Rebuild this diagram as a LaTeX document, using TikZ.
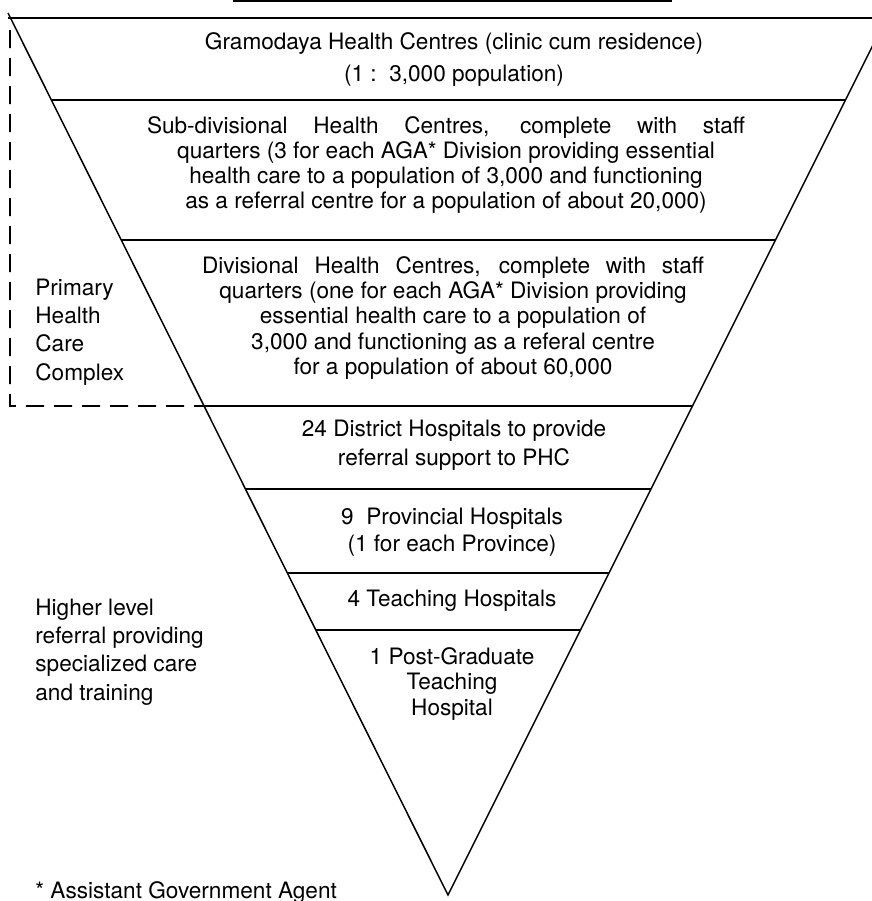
\documentclass[tikz,border=0pt]{standalone}
\usepackage{fontspec}
\setmainfont{TeX Gyre Heros}
\usetikzlibrary{calc}

\begin{document}
\begin{tikzpicture}[
    x=0.5pt, y=-0.5pt,
    band/.style={align=center, inner sep=0pt, font=\fontsize{11.3}{12.6}\selectfont},
    side/.style={align=left, anchor=west, inner sep=0pt, font=\fontsize{11.3}{14.2}\selectfont},
    edge/.style={line width=0.75pt},
    level/.style={line width=0.9pt},
    bracket/.style={line width=0.8pt, dash pattern=on 9pt off 5pt}
  ]
  \useasboundingbox (0,0) rectangle (872,901);
  \clip (0,0) rectangle (872,901);
  % Inverted triangle
  \coordinate (tl) at (8,13);
  \coordinate (tr) at (880,31);
  \coordinate (apex) at (448,895);
  \draw[edge] (tl) -- (apex) -- (tr);
  % title rule, cut by the page edge
  \coordinate (ruleL) at (233,1);
  \coordinate (ruleR) at (672,1);
  \draw[level] (ruleL) -- (ruleR);
  % Levels
  \coordinate (aL) at (8,18);
  \coordinate (aR) at (872,18);
  \draw[level] (aL) -- (aR);
  \foreach \yy/\nm in {100/b, 240/c, 406/d, 489/e, 573/f, 630/g} {
    \coordinate (\nm L) at ($(apex)!{(895-\yy)/882}!(tl)$);
    \coordinate (\nm R) at ($(apex)!{(895-\yy)/864}!(tr)$);
    \draw[level] (\nm L) -- (\nm R);
  }
  % Primary health care bracket
  \coordinate (brTop) at (10,30);
  \coordinate (brBot) at (10,406);
  \draw[bracket] (brTop) -- (brBot) -- (dL);

  \node[band] (gram) at (454,60) {Gramodaya Health Centres (clinic cum residence)\\[3.4pt]
    (1 :\ \ 3,000 population)};
  \node[band] (subdiv) at (446,165) {\makebox[299pt][s]{Sub-divisional Health Centres, complete with staff}\\
    quarters (3 for each AGA* Division providing essential\\
    health care to a population of 3,000 and functioning\\
    as a referral centre for a population of about 20,000)};
  \node[band] (div) at (453,318) {\makebox[251pt][s]{Divisional Health Centres, complete with staff}\\
    quarters (one for each AGA* Division providing\\
    essential health care to a population of\\
    3,000 and functioning as a referal centre\\
    for a population of about 60,000};
  \node[band] (dist) at (454,445) {24 District Hospitals to provide\\[2pt]referral support to PHC};
  \node[band] (prov) at (452,532) {9\ \ Provincial Hospitals\\[0.8pt](1 for each Province)};
  \node[band] (teach) at (452,601) {4 Teaching Hospitals};
  \node[band] (pg) at (452,684) {1 Post-Graduate\\Teaching\\Hospital};

  \node[side] (phc) at (35,332) {Primary\\Health\\Care\\Complex};
  \node[side] (higher) at (35,652) {Higher level\\referral providing\\specialized care\\and training};
  \node[side, anchor=base west] (aga) at (35,898) {* Assistant Government Agent};
\end{tikzpicture}
\end{document}
